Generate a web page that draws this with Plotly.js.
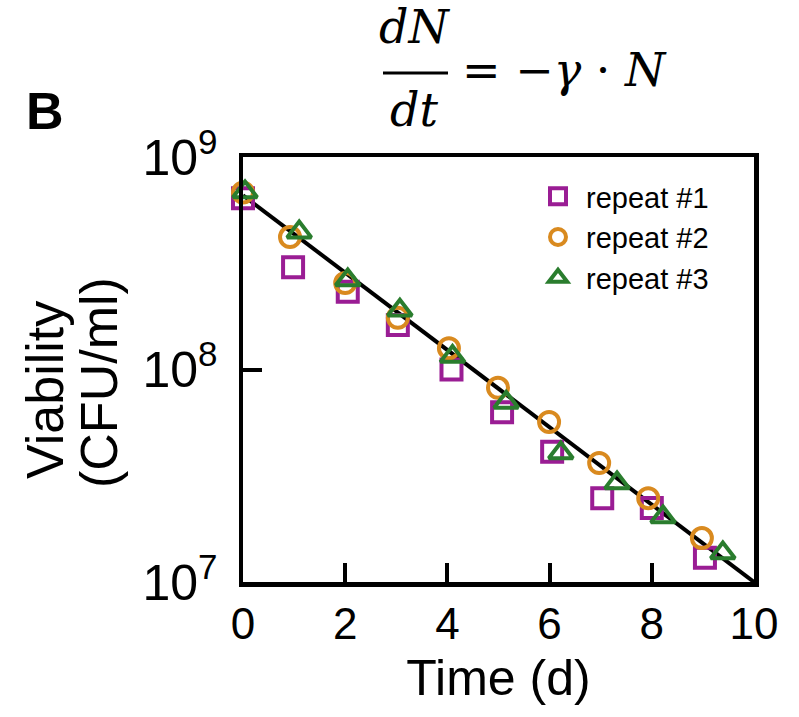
<!DOCTYPE html>
<html>
<head>
<meta charset="utf-8">
<script src="https://cdn.plot.ly/plotly-3.0.1.min.js"></script>
<style>html,body{margin:0;padding:0;background:#fff;}#chart{width:799px;height:717px;}</style>
</head>
<body>
<div id="chart"></div>
<script>
// ---- data ----
const seriesNames = ["repeat #1", "repeat #2", "repeat #3"];
const time1 = [0, 0.98, 2.05, 3.03, 4.08, 5.07, 6.05, 7.03, 8.0, 9.04];
const viab1 = [6.4e8, 3.03e8, 2.32e8, 1.62e8, 1.0e8, 6.3e7, 4.1e7, 2.48e7, 2.23e7, 1.3e7];
const time2 = [0, 0.92, 2.0, 3.03, 4.03, 4.99, 5.99, 6.97, 7.93, 8.98];
const viab2 = [6.8e8, 4.2e8, 2.55e8, 1.75e8, 1.26e8, 8.2e7, 5.66e7, 3.63e7, 2.48e7, 1.61e7];
const time3 = [0.04, 1.1, 2.05, 3.07, 4.1, 5.15, 6.22, 7.32, 8.22, 9.39];
const viab3 = [6.85e8, 4.43e8, 2.64e8, 1.9e8, 1.15e8, 7.0e7, 4.05e7, 2.92e7, 2.02e7, 1.37e7];
const fitTime = [0, 10];
const fitViab = [6.6e8, 1.0e7];
const xTicks = [0, 2, 4, 6, 8, 10];

// ---- layout helpers (pixel -> paper) ----
const W = 799, H = 717;
const M = {l: 243, r: 45, t: 157, b: 135};
const PW = W - M.l - M.r, PH = H - M.t - M.b;
const px = x => (x - M.l) / PW;
const py = y => (H - M.b - y) / PH;

const FONT = "Liberation Sans, Arial, Helvetica, sans-serif";
const MATH = "DejaVu Serif, serif";

const traces = [
  {x: fitTime, y: fitViab, mode: "lines", line: {color: "#000", width: 4}, showlegend: false, hoverinfo: "skip"},
  {x: time1, y: viab1, name: seriesNames[0], mode: "markers", cliponaxis: false,
   marker: {symbol: "square-open", size: 20, color: "#9a1d94", line: {width: 4, color: "#9a1d94"}}},
  {x: time2, y: viab2, name: seriesNames[1], mode: "markers", cliponaxis: false,
   marker: {symbol: "circle-open", size: 20, color: "#d98a1f", line: {width: 4, color: "#d98a1f"}}},
  {x: time3, y: viab3, name: seriesNames[2], mode: "markers", cliponaxis: false,
   marker: {symbol: "triangle-up-open", size: 21, color: "#2a7d2e", line: {width: 4, color: "#2a7d2e"}}}
];

const layout = {
  width: W, height: H,
  margin: M,
  paper_bgcolor: "#fff", plot_bgcolor: "#fff",
  font: {family: FONT, color: "#000"},
  showlegend: true,
  legend: {
    x: px(530), y: py(171), xanchor: "left", yanchor: "top",
    bgcolor: "rgba(0,0,0,0)", borderwidth: 0,
    font: {family: FONT, size: 29, color: "#000"},
    itemsizing: "trace", itemwidth: 46
  },
  xaxis: {
    range: [0, 10], tickvals: xTicks, ticktext: xTicks.map(String),
    showline: true, linecolor: "#000", linewidth: 4.5, mirror: true,
    ticks: "inside", ticklen: 19, tickwidth: 4, tickcolor: "#000",
    showgrid: false, zeroline: false,
    tickfont: {family: FONT, size: 44, color: "#000"},
    ticklabelstandoff: 0,
    title: {text: "Time (d)", font: {family: FONT, size: 50, color: "#000"}, standoff: 14}
  },
  yaxis: {
    type: "log", range: [7, 9], dtick: 1, exponentformat: "power",
    showline: true, linecolor: "#000", linewidth: 4.5, mirror: true,
    ticks: "inside", ticklen: 19, tickwidth: 4, tickcolor: "#000",
    showgrid: false, zeroline: false,
    tickfont: {family: FONT, size: 40, color: "#000"},
    ticklabelstandoff: 13
  },
  annotations: [
    {text: "<b>B</b>", xref: "paper", yref: "paper", x: px(45), y: py(111), xanchor: "center", yanchor: "middle",
     showarrow: false, font: {family: FONT, size: 52, color: "#000"}},
    {text: "Viability", xref: "paper", yref: "paper", x: px(45), y: py(390), xanchor: "center", yanchor: "middle",
     textangle: -90, showarrow: false, font: {family: FONT, size: 52, color: "#000"}},
    {text: "(CFU/ml)", xref: "paper", yref: "paper", x: px(99), y: py(383), xanchor: "center", yanchor: "middle",
     textangle: -90, showarrow: false, font: {family: FONT, size: 52, color: "#000"}},
    {text: "<i>dN</i>", xref: "paper", yref: "paper", x: px(414), y: py(27), xanchor: "center", yanchor: "middle",
     showarrow: false, font: {family: MATH, size: 46, color: "#000"}},
    {text: "<i>dt</i>", xref: "paper", yref: "paper", x: px(414), y: py(110), xanchor: "center", yanchor: "middle",
     showarrow: false, font: {family: MATH, size: 46, color: "#000"}},
    {text: "=\u00a0\u2212<i>\u03b3</i>\u00a0\u00b7\u00a0<i>N</i>", xref: "paper", yref: "paper", x: px(460), y: py(70),
     xanchor: "left", yanchor: "middle", showarrow: false, font: {family: MATH, size: 46, color: "#000"}}
  ],
  shapes: [
    {type: "line", xref: "paper", yref: "paper", x0: px(383), x1: px(448), y0: py(73), y1: py(73),
     line: {color: "#000", width: 3}}
  ]
};

Plotly.newPlot("chart", traces, layout, {displayModeBar: false, staticPlot: true});
</script>
</body>
</html>
